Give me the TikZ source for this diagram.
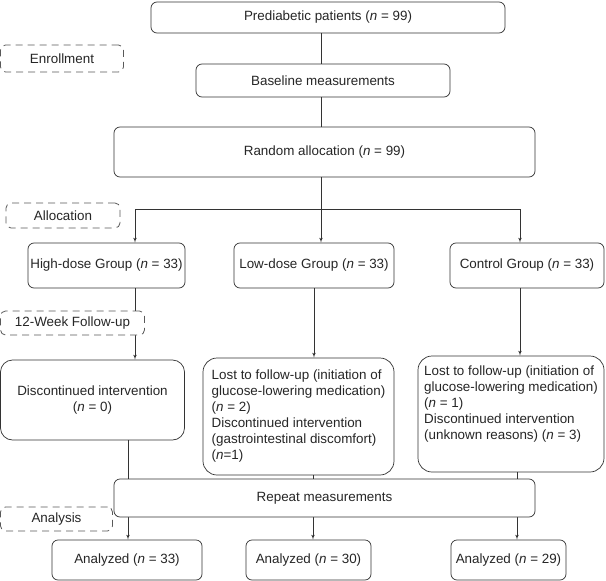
\documentclass[tikz,border=0pt]{standalone}
\usepackage{fontspec}
\setmainfont{Liberation Sans}
\usetikzlibrary{shapes,arrows}
\tikzstyle{block} = [rectangle, draw=black!80, fill=white, text=black!85,
    rounded corners=6pt, inner sep=0pt, line width=0.7pt,
    font=\fontsize{13.4}{16}\selectfont]
\tikzstyle{note} = [block, align=left, rounded corners=14pt]
\tikzstyle{stage} = [block, draw=black!65, line width=0.8pt, dash pattern=on 7pt off 5pt, rounded corners=5pt]
\tikzstyle{line} = [draw, line width=0.7pt, black!80, -latex']

\begin{document}
\begin{tikzpicture}[x=1pt, y=1pt, node distance = 60pt]
\useasboundingbox (0,0) rectangle (606,-581);
% main column
\node [block, minimum width=354pt, minimum height=31pt] (pat) at (328,-17.5) {Prediabetic patients (\textit{n} = 99)};
\node [block, below of=pat, node distance=63pt, xshift=-5pt, minimum width=254pt, minimum height=33pt] (base) {Baseline measurements};
\node [block, below of=base, node distance=71.5pt, xshift=1.5pt, minimum width=421pt, minimum height=50pt] (rand) {Random allocation (\textit{n} = 99)};
% groups
\node [block, below of=rand, node distance=113.5pt, xshift=-10.5pt, minimum width=160pt, minimum height=45pt] (low) {Low-dose Group (\textit{n} = 33)};
\node [block, left of=low, node distance=207.5pt, minimum width=157pt, minimum height=45pt] (high) {High-dose Group (\textit{n} = 33)};
\node [block, right of=low, node distance=213pt, minimum width=154pt, minimum height=45pt] (ctrl) {Control Group (\textit{n} = 33)};
% follow-up
\node [block, below of=high, node distance=134.5pt, xshift=-14pt, minimum width=184pt, minimum height=80pt, align=center, rounded corners=12pt] (disc) {Discontinued intervention\\(\textit{n} = 0)};
\node [note, below of=low, node distance=151pt, xshift=-15.5pt, minimum width=191pt, minimum height=117pt] (lowlost) {Lost to follow-up (initiation of\\glucose-lowering medication)\\(\textit{n} = 2)\\Discontinued intervention\\(gastrointestinal discomfort)\\(\textit{n}=1)};
\node [note, below of=ctrl, node distance=148.5pt, xshift=-16pt, minimum width=186pt, minimum height=116pt] (ctrllost) {Lost to follow-up (initiation of\\glucose-lowering medication)\\(\textit{n} = 1)\\Discontinued intervention\\(unknown reasons) (\textit{n} = 3)\\[6pt]\mbox{}};
% analysis
\node [block, below of=disc, node distance=160pt, xshift=34.5pt, minimum width=150pt, minimum height=40pt] (ana1) {Analyzed (\textit{n} = 33)};
\node [block, right of=ana1, node distance=181.5pt, minimum width=125pt, minimum height=40pt] (ana2) {Analyzed (\textit{n} = 30)};
\node [block, right of=ana2, node distance=200pt, minimum width=115pt, minimum height=40pt] (ana3) {Analyzed (\textit{n} = 29)};
\coordinate (split) at (321,-209);
\coordinate (xa) at (135,-209);
\coordinate (xc) at (520,-209);
\coordinate (ya) at (128,-498);
\coordinate (yb) at (313,-498);
\coordinate (yc) at (517,-498);
\path [line, -] (pat.south -| split) -- (base.north -| split);
\path [line, -] (base.south -| split) -- (rand.north -| split);
\path [line] (rand.south -| split) -- (split |- low.north);
\path [line, -] (xa) -- (xc);
\path [line] (xa) -- (xa |- high.north);
\path [line] (xc) -- (xc |- ctrl.north);
\path [line] (high.south -| xa) -- (disc.north -| xa);
\path [line] (low.south) -- (low.south |- lowlost.north);
\path [line] (ctrl.south -| xc) -- (ctrllost.north -| xc);
\path [line] (disc.south -| ya) -- (ana1.north -| ya);
\path [line] (lowlost.south -| yb) -- (ana2.north -| yb);
\path [line] (ctrllost.south -| yc) -- (ana3.north -| yc);
\node [block, below of=rand, node distance=346pt, minimum width=421pt, minimum height=38pt] (repeat) {Repeat measurements};
% stages
\node [stage, minimum width=123pt, minimum height=27pt] (enroll) at (62,-58.5) {Enrollment};
\node [stage, minimum width=114pt, minimum height=25pt] (alloc) at (63,-215.5) {Allocation};
\node [stage, minimum width=144pt, minimum height=24pt] (follow) at (72.5,-323) {12-Week Follow-up};
\node [stage, minimum width=112pt, minimum height=24pt] (analysis) at (56.5,-519) {Analysis};
\end{tikzpicture}
\end{document}
